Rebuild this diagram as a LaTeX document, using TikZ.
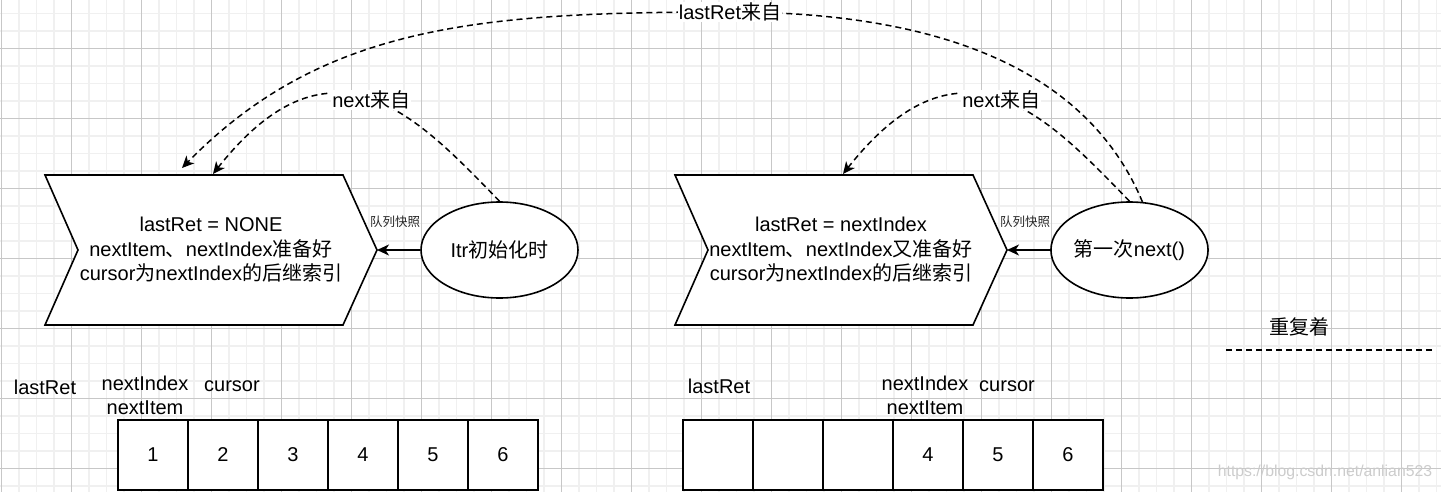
\documentclass[tikz,border=0pt]{standalone}
\usepackage{fontspec}
\setmainfont{Liberation Sans}
\newfontfamily\cjk{Noto Sans CJK SC}
\usetikzlibrary{arrows.meta,shapes.geometric}
\newcommand{\zh}[1]{{\cjk #1}}

\begin{document}
\begin{tikzpicture}[x=1pt,y=-1pt,
  shapeline/.style={line width=1.6pt, draw=black, fill=white, line join=miter},
  txt/.style={font=\fontsize{20}{24.5}\selectfont, text=black, inner sep=0pt, align=center},
  smalltxt/.style={font=\fontsize{12.5}{14}\selectfont, text=black!85, inner sep=0pt},
  ell/.style={ellipse, draw, line width=1.6pt, minimum width=157pt, minimum height=96pt, inner sep=0pt, fill=white, font=\fontsize{20}{24}\selectfont},
  cell/.style={draw, line width=1.6pt, minimum width=70pt, minimum height=70pt, inner sep=0pt, fill=white, font=\fontsize{20}{24}\selectfont},
  tip/.style={-{Stealth[length=12pt,width=11pt,inset=3.5pt]}},
  dashcon/.style={line width=1.5pt, dash pattern=on 6pt off 4pt, tip},
  solidcon/.style={line width=1.6pt, tip},
  lbl/.style={fill=white, inner sep=1pt, font=\fontsize{20}{24}\selectfont, text=black},
  plain/.style={font=\fontsize{20}{24}\selectfont, text=black, inner sep=0pt},
  minorgrid/.style={draw=black!6, line width=1.2pt},
  majorgrid/.style={draw=black!22, line width=1pt}
]
\useasboundingbox (0,0) rectangle (1441,492);
\fill[white] (0,0) rectangle (1441,492);

% grid
\begin{scope}
\clip (0,0) rectangle (1441,492);
\foreach \i in {0,...,82} \draw[minorgrid] ({1.5+17.5*\i},0) -- ++(0,492);
\foreach \i in {-3,...,25} \draw[minorgrid] (0,{48.5+17.5*\i}) -- ++(1441,0);
\foreach \i in {0,...,20} \draw[majorgrid] ({1.5+70*\i},0) -- ++(0,492);
\foreach \i in {-1,...,7} \draw[majorgrid] (0,{48.5+70*\i}) -- ++(1441,0);
\end{scope}

% left chevron
\coordinate (c1tip) at (377,250);
\coordinate (a1end) at (213,174);
\coordinate (b1end) at (182,168);
\draw[shapeline] (45,175) -- (343,175) -- (c1tip) -- (343,325) -- (45,325) -- (78,250) -- cycle;
\node[txt] (c1) at (211,250) {lastRet = NONE\\nextItem\zh{、}nextIndex\zh{准备好}\\cursor\zh{为}nextIndex\zh{的后继索引}};

% right chevron
\coordinate (c2tip) at (1007,250);
\coordinate (c2end) at (843,174);
\draw[shapeline] (675,175) -- (973,175) -- (c2tip) -- (973,325) -- (675,325) -- (708,250) -- cycle;
\node[txt] (c2) at (841,250) {lastRet = nextIndex\\nextItem\zh{、}nextIndex\zh{又准备好}\\cursor\zh{为}nextIndex\zh{的后继索引}};

% ellipses
\node[ell] (e1) at (499.5,250) {Itr\zh{初始化时}};
\node[ell] (e2) at (1129.5,250) {\zh{第一次}next()};

% solid arrows
\draw[solidcon] (e1.west) -- (c1tip);
\draw[solidcon] (e2.west) -- (c2tip);
\node[smalltxt] (q1) at (395,222) {\zh{队列快照}};
\node[smalltxt] (q2) at (1025,222) {\zh{队列快照}};

% dashed curved connectors
\draw[dashcon] (e1.north) .. controls (419.8,119.4) and (332.5,22.6) .. (a1end)
  node[lbl,pos=0.5] {next\zh{来自}};
\draw[dashcon] (e2.north) .. controls (1049.8,119.4) and (962.5,22.6) .. (c2end)
  node[lbl,pos=0.5] {next\zh{来自}};
\draw[dashcon] (e2.75) .. controls (1092,81) and (960,12) .. (730,12)
  node[lbl] {lastRet\zh{来自}}
  .. controls (480,12) and (322,25) .. (b1end);

% repeat marker
\node[plain] (rep) at (1299,327) {\zh{重复着}};
\coordinate (r1) at (1226,350);
\coordinate (r2) at (1432,350);
\draw[line width=1.5pt, dash pattern=on 6pt off 4pt] (r1) -- (r2);

% left array
\node[cell] (l1) at (153,455) {1};
\node[cell] (l2) at (223,455) {2};
\node[cell] (l3) at (293,455) {3};
\node[cell] (l4) at (363,455) {4};
\node[cell] (l5) at (433,455) {5};
\node[cell] (l6) at (503,455) {6};
\node[plain] (llast) at (45,387) {lastRet};
\node[plain] (lidx) at (145,383) {nextIndex};
\node[plain] (litem) at (145,408) {nextItem};
\node[plain] (lcur) at (232,386) {cursor};

% right array
\node[cell] (r1c) at (718,455) {};
\node[cell] (r2c) at (788,455) {};
\node[cell] (r3c) at (858,455) {};
\node[cell] (r4c) at (928,455) {4};
\node[cell] (r5c) at (998,455) {5};
\node[cell] (r6c) at (1068,455) {6};
\node[plain] (rlast) at (719,386) {lastRet};
\node[plain] (ridx) at (925,383) {nextIndex};
\node[plain] (ritem) at (925,408) {nextItem};
\node[plain] (rcur) at (1007,386) {cursor};

% watermark
\node[font=\fontsize{15.8}{16}\selectfont, text=black!20, inner sep=0pt] (wm) at (1325,472) {https://blog.csdn.net/anlian523};
\end{tikzpicture}
\end{document}
